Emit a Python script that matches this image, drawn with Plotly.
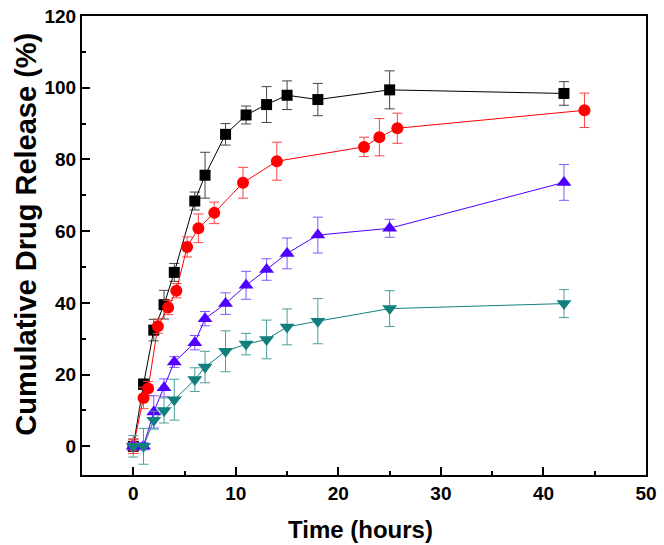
import plotly.graph_objects as go

# ---- data ----
black_x = [0, 1, 2, 3, 4, 6, 7, 9, 11, 13, 15, 18, 25, 42]
black_y = [0, 17.3, 32.4, 39.5, 48.5, 68.4, 75.6, 87.0, 92.4, 95.3, 97.9, 96.7, 99.4, 98.4]
black_e = [2, 1.5, 3, 4, 2.5, 2.5, 6.4, 3, 2.5, 5, 4, 4.5, 5.3, 3.3]

red_x = [0, 1, 1.45, 2.4, 3.4, 4.2, 5.25, 6.35, 7.9, 10.7, 14, 22.5, 24, 25.75, 44]
red_y = [0, 13.5, 16.1, 33.5, 38.7, 43.4, 55.6, 60.8, 65.1, 73.5, 79.5, 83.5, 86.2, 88.7, 93.7]
red_e = [2, 3, 2, 2, 2, 2, 2.8, 4, 3, 4.3, 5.3, 2.7, 5.2, 4.2, 4.8]

purple_x = [0, 1, 2, 3, 4, 6, 7, 9, 11, 13, 15, 18, 25, 42]
purple_y = [0, 0, 9.6, 16.3, 23.5, 28.9, 35.6, 39.8, 44.9, 49.3, 53.8, 58.9, 60.8, 73.6]
purple_e = [1, 1, 4.5, 2.5, 1.5, 2, 2, 3, 3.9, 3, 4.3, 5, 2.5, 5]

teal_x = [0, 1, 2, 3, 4, 6, 7, 9, 11, 13, 15, 18, 25, 42]
teal_y = [0, 0, 7.3, 10.0, 13.0, 18.6, 22.1, 26.5, 28.5, 29.8, 33.3, 34.9, 38.4, 39.8]
teal_e = [3, 5, 2.5, 3.5, 5.7, 3.3, 4.4, 5.7, 3, 5.4, 5, 6.3, 5, 3.9]

x_ticks = [0, 10, 20, 30, 40, 50]
y_ticks = [0, 20, 40, 60, 80, 100, 120]

series = [
    (black_x, black_y, black_e, "#000000", "#444444", "square", 11),
    (red_x, red_y, red_e, "#FF0000", "#FF4444", "circle", 12),
    (purple_x, purple_y, purple_e, "#5000FF", "#8055FF", "triangle-up", 13),
    (teal_x, teal_y, teal_e, "#127F7F", "#4C9C9C", "triangle-down", 13),
]

fig = go.Figure()
for xs, ys, es, col, ecol, sym, sz in series:
    fig.add_trace(go.Scatter(
        x=xs, y=ys, mode="lines+markers",
        line=dict(color=col, width=1),
        marker=dict(symbol=sym, size=sz, color=col, line=dict(width=0)),
        error_y=dict(type="data", array=es, visible=True, color=ecol, thickness=1, width=5),
        showlegend=False,
    ))

fnt = "Liberation Sans"
fig.update_layout(
    width=664, height=545,
    margin=dict(l=82, r=18, t=16, b=70),
    paper_bgcolor="white", plot_bgcolor="white",
    font=dict(family=fnt, color="black"),
    xaxis=dict(
        range=[-5, 50], tickvals=x_ticks, ticktext=[f"<b>{v}</b>" for v in x_ticks],
        ticks="inside", ticklen=8, tickwidth=1.5,
        tickcolor="black", showline=True, linecolor="black", linewidth=2, mirror=True,
        showgrid=False, zeroline=False, automargin=False,
        tickfont=dict(size=19, family=fnt, color="black"),
        minor=dict(dtick=5, tick0=0, ticks="inside", ticklen=4, tickwidth=1.5, tickcolor="black"),
    ),
    yaxis=dict(
        range=[-8, 120], tickvals=y_ticks, ticktext=[f"<b>{v}</b>" for v in y_ticks],
        ticks="inside", ticklen=8, tickwidth=1.5,
        tickcolor="black", showline=True, linecolor="black", linewidth=2, mirror=True,
        showgrid=False, zeroline=False, automargin=False,
        tickfont=dict(size=19, family=fnt, color="black"),
        minor=dict(dtick=10, tick0=0, ticks="inside", ticklen=4, tickwidth=1.5, tickcolor="black"),
    ),
    annotations=[
        dict(text="<b>Time (hours)</b>", xref="paper", yref="paper", x=0.494, y=-0.118,
             xanchor="center", yanchor="middle", showarrow=False,
             font=dict(size=24, family=fnt, color="black")),
        dict(text="<b>Cumulative Drug Release (%)</b>", xref="paper", yref="paper",
             x=-0.1, y=0.525, xanchor="center", yanchor="middle", textangle=-90,
             showarrow=False, font=dict(size=29, family=fnt, color="black")),
    ],
)

fig.write_html("out.html", config={"displayModeBar": False},
               post_script="document.body.style.margin='0';document.body.style.padding='0';")
